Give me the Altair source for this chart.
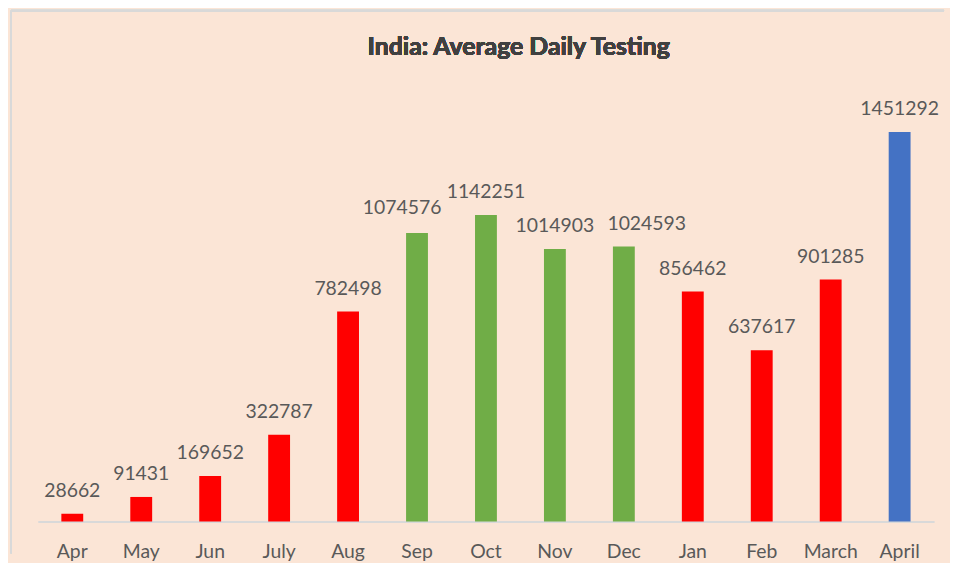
import altair as alt
import pandas as pd

months = ["Apr", "May", "Jun", "July", "Aug", "Sep", "Oct", "Nov", "Dec",
          "Jan", "Feb", "March", "April"]
values = [28662, 91431, 169652, 322787, 782498, 1074576, 1142251, 1014903,
          1024593, 856462, 637617, 901285, 1451292]
groups = ["low", "low", "low", "low", "low", "high", "high", "high", "high",
          "low", "low", "low", "latest"]

df = pd.DataFrame({"month": months, "value": values, "group": groups})

FONT = "Lato"
TXT = "#595959"
LBL = 19.5

x = alt.X("month:N", sort=months, title=None,
          scale=alt.Scale(paddingInner=0, paddingOuter=0),
          axis=alt.Axis(labelAngle=0, ticks=False, tickSize=0, domainColor="#D9D9D9",
                        domainWidth=2, labelFont=FONT, labelFontSize=LBL,
                        labelColor=TXT, labelBaseline="alphabetic", labelPadding=36,
                        grid=False))
y = alt.Y("value:Q", title=None, scale=alt.Scale(domain=[0, 1640000], nice=False),
          axis=None)

bars = alt.Chart(df).mark_bar(width=22).encode(
    x=x, y=y,
    color=alt.Color("group:N", legend=None,
                    scale=alt.Scale(domain=["low", "high", "latest"],
                                    range=["#FF0000", "#70AD47", "#4472C4"])),
)


def label_layer(dx=0, dy=-17):
    return alt.Chart(df).mark_text(font=FONT, fontSize=LBL, color=TXT,
                                   baseline="alphabetic", dx=dx, dy=dy).encode(
        x=alt.X("month:N", sort=months), y="value:Q", text="value:Q")


labels = label_layer().transform_filter(
    (alt.datum.month != "Sep") & (alt.datum.month != "Dec"))
label_sep = label_layer(dx=-15, dy=-19).transform_filter(alt.datum.month == "Sep")
label_dec = label_layer(dx=23).transform_filter(alt.datum.month == "Dec")

title = alt.Chart(df).mark_text(font=FONT, fontSize=25, fontWeight="bold",
                                color="#404040", baseline="alphabetic",
                                align="center").encode(
    x=alt.value(484), y=alt.value(-26),
    text=alt.value("India: Average Daily Testing"))

border_top = alt.Chart(df).mark_rule(color="#D9D9D9", strokeWidth=2).encode(
    x=alt.value(-27), x2=alt.value(912), y=alt.value(-71))
border_left = alt.Chart(df).mark_rule(color="#D9D9D9", strokeWidth=2).encode(
    x=alt.value(-27), y=alt.value(-71), y2=alt.value(475))

chart = alt.layer(border_top, border_left, bars, labels, label_sep, label_dec,
                  title).properties(
    width=902, height=443,
    background="#FBE5D6",
    padding={"left": 30, "top": 72, "right": 16, "bottom": 40},
    autosize=alt.AutoSizeParams(type="none"),
).configure_view(stroke=None)

chart.save("out.html", embed_options={"renderer": "svg", "actions": False})
